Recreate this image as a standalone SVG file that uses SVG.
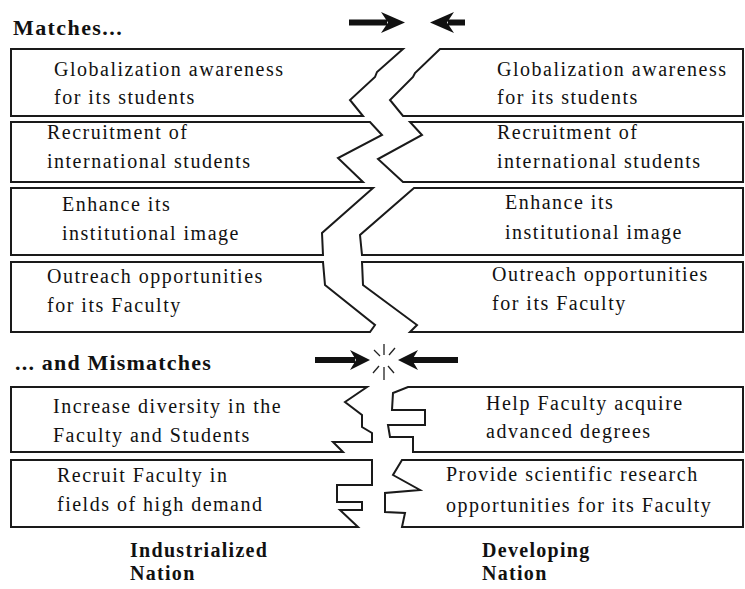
<svg xmlns="http://www.w3.org/2000/svg" width="745" height="589" viewBox="0 0 745 589">
<style>
.box{fill:#fff;stroke:#1a1a1a;stroke-width:2;stroke-linejoin:miter}
.t{font-family:"Liberation Serif","Times New Roman",serif;font-size:20px;letter-spacing:1.5px;fill:#111}
.h{font-family:"Liberation Serif","Times New Roman",serif;font-size:22px;font-weight:bold;letter-spacing:1.3px;fill:#111}
.n{font-family:"Liberation Serif","Times New Roman",serif;font-size:20px;font-weight:bold;letter-spacing:1.3px;fill:#111}
.arr{fill:#111}
.ray{stroke:#222;stroke-width:1.3}
</style>
<rect width="745" height="589" fill="#fff"/>
<text class="h" x="13" y="35" textLength="110" lengthAdjust="spacing">Matches...</text>
<text class="h" x="15" y="370" textLength="197" lengthAdjust="spacing">... and Mismatches</text>

<g id="m1-left"><path class="box" d="M11,49 H403 L377,72 L375,77 L350,100 L363,116 H11 Z"/>
<text class="t" x="54" y="76">Globalization awareness</text><text class="t" x="54" y="104">for its students</text></g>
<g id="m1-right"><path class="box" d="M743,49 H440 L415,73 L413,77 L390,100 L403,116 H743 Z"/>
<text class="t" x="497" y="76">Globalization awareness</text><text class="t" x="497" y="104">for its students</text></g>

<g id="m2-left"><path class="box" d="M11,122 H370 L382,135 L338,158 L363,182 H11 Z"/>
<text class="t" x="47" y="139">Recruitment of</text><text class="t" x="47" y="168">international students</text></g>
<g id="m2-right"><path class="box" d="M743,122 H410 L422,135 L378,159 L403,182 H743 Z"/>
<text class="t" x="497" y="139">Recruitment of</text><text class="t" x="497" y="168">international students</text></g>

<g id="m3-left"><path class="box" d="M11,188 H373 L322,233 L323,255 H11 Z"/>
<text class="t" x="62" y="211">Enhance its</text><text class="t" x="62" y="240">institutional image</text></g>
<g id="m3-right"><path class="box" d="M743,188 H414 L360,235 L362,255 H743 Z"/>
<text class="t" x="505" y="209">Enhance its</text><text class="t" x="505" y="239">institutional image</text></g>

<g id="m4-left"><path class="box" d="M11,262 H323 L325,285 L375,325 L370,332 H11 Z"/>
<text class="t" x="47" y="283">Outreach opportunities</text><text class="t" x="47" y="312">for its Faculty</text></g>
<g id="m4-right"><path class="box" d="M743,262 H362 L363,285 L417,325 L410,332 H743 Z"/>
<text class="t" x="492" y="281">Outreach opportunities</text><text class="t" x="492" y="310">for its Faculty</text></g>

<g id="x1-left"><path class="box" d="M11,387 H367 L345,402 L362,415 L362,427 L372,433 L372,442 L333,442 L343,452 H11 Z"/>
<text class="t" x="53" y="413">Increase diversity in the</text><text class="t" x="53" y="442">Faculty and Students</text></g>
<g id="x1-right"><path class="box" d="M743,387 H408 L393,393 L392,410 L425,410 L425,425 L388,425 L390,437 L413,437 L413,452 H743 Z"/>
<text class="t" x="486" y="410">Help Faculty acquire</text><text class="t" x="486" y="438">advanced degrees</text></g>

<g id="x2-left"><path class="box" d="M11,460 H372 V485 H337 V502 H362 V510 H340 L358,527 H11 Z"/>
<text class="t" x="57" y="482">Recruit Faculty in</text><text class="t" x="57" y="511">fields of high demand</text></g>
<g id="x2-right"><path class="box" d="M743,460 H402 L393,475 L420,490 L385,493 V512 L405,513 L402,527 H743 Z"/>
<text class="t" x="446" y="481">Provide scientific research</text><text class="t" x="446" y="512">opportunities for its Faculty</text></g>

<g id="label-industrialized"><text class="n" x="130" y="557">Industrialized</text><text class="n" x="130" y="580">Nation</text></g>
<g id="label-developing"><text class="n" x="482" y="557">Developing</text><text class="n" x="482" y="580">Nation</text></g>

<g id="connectors">
<rect class="arr" x="349" y="19.5" width="38" height="6"/>
<path class="arr" d="M405,22.5 L381,12 L388,22.5 L381,33 Z"/>
<rect class="arr" x="448" y="19.5" width="17" height="6"/>
<path class="arr" d="M430,22.5 L454,12 L447,22.5 L454,33 Z"/>
<rect class="arr" x="315" y="357" width="40" height="6"/>
<path class="arr" d="M370,360 L350,350 L356,360 L350,370 Z"/>
<rect class="arr" x="412" y="357" width="46" height="6"/>
<path class="arr" d="M398,360 L418,350 L412,360 L418,370 Z"/>
<g class="ray">
<line x1="384" y1="344" x2="384" y2="355"/>
<line x1="384" y1="367" x2="384" y2="380"/>
<line x1="374" y1="350" x2="380" y2="356"/>
<line x1="395" y1="348" x2="389" y2="355"/>
<line x1="373" y1="373" x2="379" y2="366"/>
<line x1="394" y1="373" x2="388" y2="366"/>
</g>
</g>
</svg>
